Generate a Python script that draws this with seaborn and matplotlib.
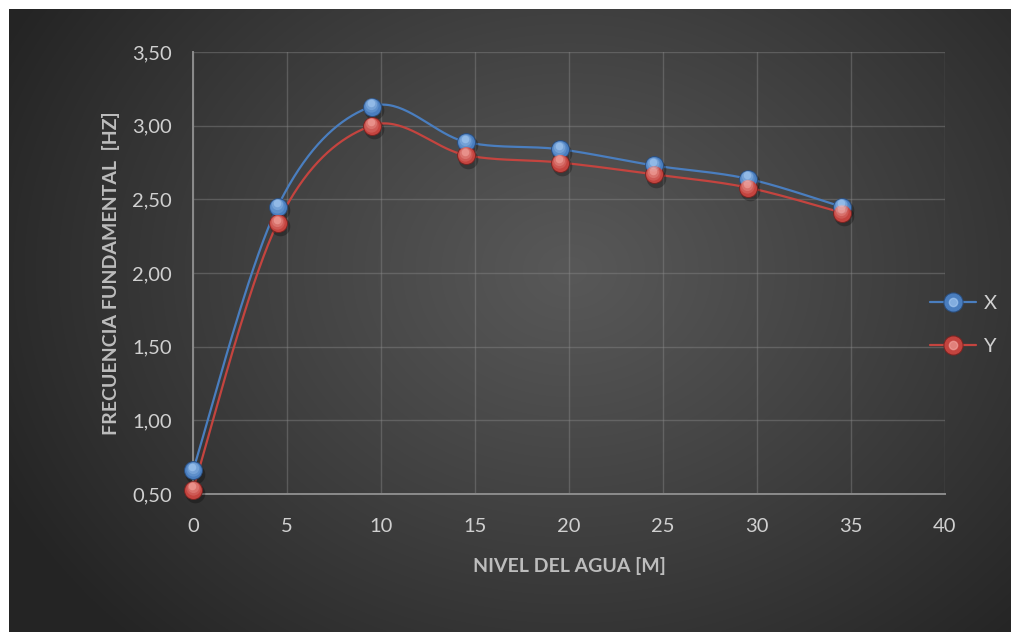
import numpy as np
import pandas as pd
import matplotlib
matplotlib.use("Agg")
import matplotlib.pyplot as plt
import matplotlib.transforms as mtransforms
from matplotlib.lines import Line2D
from matplotlib.legend_handler import HandlerTuple
import seaborn as sns

# Water level (m) and fundamental frequency (Hz) in each direction
nivel = [0, 4.5, 9.5, 14.5, 19.5, 24.5, 29.5, 34.5]
frec_x = [0.66, 2.45, 3.13, 2.89, 2.84, 2.73, 2.64, 2.45]
frec_y = [0.53, 2.34, 3.00, 2.80, 2.75, 2.67, 2.58, 2.41]
series = ["X", "Y"]
x_ticks = [0, 5, 10, 15, 20, 25, 30, 35, 40]
y_ticks = [0.5, 1.0, 1.5, 2.0, 2.5, 3.0, 3.5]

colors = {"X": "#4a7ebf", "Y": "#c4443f"}
light = {"X": "#a9cdf5", "Y": "#f5aaa4"}
dark = {"X": "#2b4f80", "Y": "#7e2422"}
text_col = "#d0d0d0"
label_col = "#bdbdbd"


def smooth_curve(x, y, n=40):
    """Cardinal (Catmull-Rom style) Bezier smoothing through every point."""
    x = np.asarray(x, float)
    y = np.asarray(y, float)
    px = np.concatenate([[x[0]], x, [x[-1]]])
    py = np.concatenate([[y[0]], y, [y[-1]]])
    xs, ys = [], []
    t = np.linspace(0, 1, n)
    for i in range(1, len(px) - 2):
        p0 = np.array([px[i], py[i]])
        p3 = np.array([px[i + 1], py[i + 1]])
        b1 = p0 + (np.array([px[i + 1], py[i + 1]]) - np.array([px[i - 1], py[i - 1]])) / 6
        b2 = p3 - (np.array([px[i + 2], py[i + 2]]) - p0) / 6
        pts = ((1 - t) ** 3)[:, None] * p0 + (3 * (1 - t) ** 2 * t)[:, None] * b1 \
            + (3 * (1 - t) * t ** 2)[:, None] * b2 + (t ** 3)[:, None] * p3
        xs.extend(pts[:, 0])
        ys.extend(pts[:, 1])
    return np.array(xs), np.array(ys)


sns.set_theme(style="dark")
plt.rcParams["font.family"] = ["Lato", "DejaVu Sans"]

fig = plt.figure(figsize=(10.13, 6.32), dpi=100, facecolor="white")

# Radial grey backdrop
bg = fig.add_axes([9 / 1013, 0, 1001 / 1013, 623 / 632], zorder=0)
gx, gy = np.meshgrid(np.linspace(0, 1, 500), np.linspace(0, 1, 320))
cx, cy = 0.56, 0.42
r = np.sqrt(((gx - cx) * 1.25) ** 2 + ((gy - cy) * 0.95) ** 2)
r = np.clip(r / 0.78, 0, 1)
shade = 0.345 - (0.345 - 0.145) * r ** 1.1
bg.imshow(np.dstack([shade, shade, shade]), aspect="auto", origin="upper",
          extent=[0, 1, 0, 1], interpolation="bilinear")
bg.set_axis_off()

ax = fig.add_axes([193 / 1013, 1 - 494 / 632, 752 / 1013, 442 / 632], zorder=1)
ax.set_facecolor("none")

frames = []
for name, vals in zip(series, [frec_x, frec_y]):
    sx, sy = smooth_curve(nivel, vals)
    frames.append(pd.DataFrame({"nivel": sx, "frec": sy, "serie": name}))
curves = pd.concat(frames, ignore_index=True)
points = pd.DataFrame({
    "nivel": nivel * 2,
    "frec": frec_x + frec_y,
    "serie": ["X"] * len(nivel) + ["Y"] * len(nivel),
})

sns.lineplot(data=curves, x="nivel", y="frec", hue="serie", palette=colors,
             linewidth=1.6, sort=False, estimator=None, legend=False, ax=ax, zorder=3)


def shifted(dx, dy):
    return mtransforms.offset_copy(ax.transData, fig=fig, x=dx, y=dy, units="points")


# Sphere-like markers: shadow, dark rim, body and a soft layered highlight
glow_layers = [(105, 0.8, 0.22), (65, 1.6, 0.30), (30, 2.4, 0.55)]
for name in series:
    sub = points[points.serie == name]
    ax.scatter(sub.nivel, sub.frec, s=200, color="black", alpha=0.28,
               linewidth=0, transform=shifted(1.5, -2.5), zorder=4, clip_on=False)
    sns.scatterplot(data=sub, x="nivel", y="frec", s=185, color=dark[name],
                    linewidth=0, ax=ax, zorder=5, legend=False, clip_on=False)
    sns.scatterplot(data=sub, x="nivel", y="frec", s=150, color=colors[name],
                    linewidth=0, ax=ax, zorder=6, legend=False, clip_on=False)
    for k, (size, dy, alpha) in enumerate(glow_layers):
        ax.scatter(sub.nivel, sub.frec, s=size, color=light[name], alpha=alpha,
                   linewidth=0, transform=shifted(-0.4 * (k + 1) / 3, dy),
                   zorder=7 + k, clip_on=False)

ax.set_xlim(0, 40)
ax.set_ylim(0.5, 3.5)
ax.set_xticks(x_ticks)
ax.set_yticks(y_ticks)
ax.set_xticklabels([str(v) for v in x_ticks])
ax.set_yticklabels([f"{v:.2f}".replace(".", ",") for v in y_ticks])
ax.tick_params(axis="both", colors=text_col, labelsize=14.5, length=0)
ax.tick_params(axis="x", pad=17)
ax.tick_params(axis="y", pad=15)
ax.grid(True, color="#8a8a8a", alpha=0.42, linewidth=1)
ax.set_axisbelow(True)
for side in ["top", "right"]:
    ax.spines[side].set_visible(False)
for side in ["left", "bottom"]:
    ax.spines[side].set_color("#8c8c8c")
    ax.spines[side].set_linewidth(1.4)

ax.set_xlabel("NIVEL DEL AGUA [M]", color=label_col, fontsize=14,
              fontweight="bold", labelpad=16)
ax.set_ylabel("FRECUENCIA FUNDAMENTAL  [HZ]", color=label_col, fontsize=14,
              fontweight="bold", labelpad=9)

handles = []
for name in series:
    ln = Line2D([], [], color=colors[name], linewidth=1.6)
    rim = Line2D([], [], marker="o", markersize=13.5, color=dark[name], linestyle="none")
    body = Line2D([], [], marker="o", markersize=12, color=colors[name], linestyle="none")
    hl = Line2D([], [], marker="o", markersize=6, color=light[name], linestyle="none", alpha=0.6)
    handles.append((ln, rim, body, hl))
leg = fig.legend(handles, series, handler_map={tuple: HandlerTuple(ndivide=1, pad=0)},
                 loc="center left", bbox_to_anchor=(912 / 1013, 1 - 325 / 632),
                 frameon=False, fontsize=14.5, labelcolor=text_col,
                 handlelength=2.3, handletextpad=0.35, labelspacing=1.3)

fig.savefig("out.png", dpi=100, facecolor="white")
